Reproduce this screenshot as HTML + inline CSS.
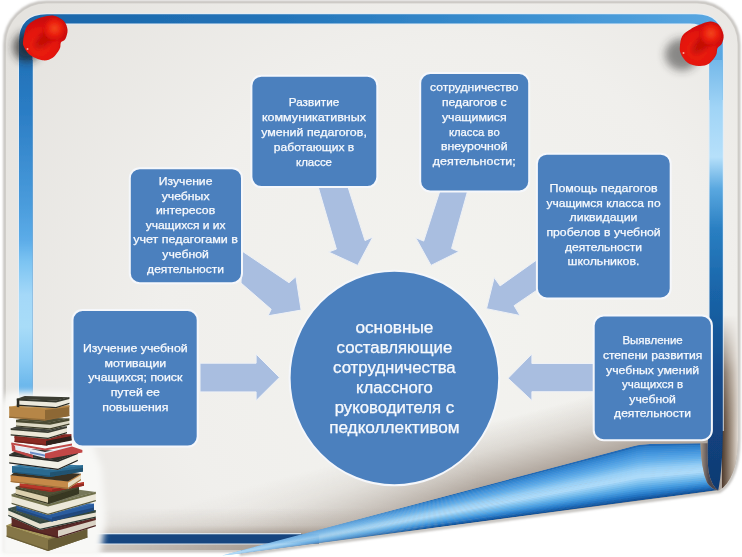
<!DOCTYPE html>
<html><head><meta charset="utf-8">
<style>
html,body{margin:0;padding:0;background:#fff;}
body{width:742px;height:557px;overflow:hidden;font-family:"Liberation Sans",sans-serif;}
svg{display:block}
text{font-family:"Liberation Sans",sans-serif;fill:#f4f8fd;text-anchor:middle}
</style></head><body>
<svg width="742" height="557" viewBox="0 0 742 557">
<defs>
  <radialGradient id="pageG" gradientUnits="userSpaceOnUse" cx="450" cy="330" r="520">
    <stop offset="0" stop-color="#f3f3ef"/>
    <stop offset="0.55" stop-color="#f0efec"/>
    <stop offset="1" stop-color="#e5e3df"/>
  </radialGradient>
  <linearGradient id="topBand" gradientUnits="userSpaceOnUse" x1="19" y1="0" x2="723" y2="0">
    <stop offset="0" stop-color="#1b65a8"/>
    <stop offset="0.35" stop-color="#2273b8"/>
    <stop offset="0.7" stop-color="#3a8fd0"/>
    <stop offset="1" stop-color="#5aa8e2"/>
  </linearGradient>
  <linearGradient id="leftBand" gradientUnits="userSpaceOnUse" x1="0" y1="40" x2="0" y2="540">
    <stop offset="0" stop-color="#1b65a8"/>
    <stop offset="0.04" stop-color="#2272b8"/>
    <stop offset="0.136" stop-color="#2a7cc4"/>
    <stop offset="0.234" stop-color="#3a8cd0"/>
    <stop offset="0.33" stop-color="#4a9cdc"/>
    <stop offset="0.4" stop-color="#5cace8"/>
    <stop offset="0.444" stop-color="#7cc4f2"/>
    <stop offset="0.51" stop-color="#a4d8f8"/>
    <stop offset="0.574" stop-color="#a8dcf8"/>
    <stop offset="0.638" stop-color="#8cccf4"/>
    <stop offset="0.69" stop-color="#6cb8ec"/>
    <stop offset="0.8" stop-color="#4a9cdc"/>
    <stop offset="1" stop-color="#2a78c0"/>
  </linearGradient>
  <linearGradient id="rightBand" gradientUnits="userSpaceOnUse" x1="0" y1="40" x2="0" y2="490">
    <stop offset="0" stop-color="#62ade4"/>
    <stop offset="0.15" stop-color="#a0d4f6"/>
    <stop offset="0.26" stop-color="#b6e0fa"/>
    <stop offset="0.33" stop-color="#5aa8e0"/>
    <stop offset="0.42" stop-color="#2a7fc2"/>
    <stop offset="0.55" stop-color="#1a66aa"/>
    <stop offset="0.75" stop-color="#144a8a"/>
    <stop offset="1" stop-color="#103a72"/>
  </linearGradient>
  <linearGradient id="curlG" gradientUnits="userSpaceOnUse" x1="596" y1="466" x2="606" y2="514">
    <stop offset="0" stop-color="#2f86cc"/>
    <stop offset="0.18" stop-color="#58a8e4"/>
    <stop offset="0.38" stop-color="#9ad2f6"/>
    <stop offset="0.55" stop-color="#4a9fe0"/>
    <stop offset="0.8" stop-color="#1f70c0"/>
    <stop offset="1" stop-color="#0e4f98"/>
  </linearGradient>
  <linearGradient id="brownR" gradientUnits="userSpaceOnUse" x1="722" y1="0" x2="738.5" y2="0">
    <stop offset="0" stop-color="#4e3a2e"/>
    <stop offset="0.3" stop-color="#7a6858"/>
    <stop offset="0.65" stop-color="#b0a294"/>
    <stop offset="1" stop-color="#e6e0da"/>
  </linearGradient>
  <linearGradient id="brownGap" gradientUnits="userSpaceOnUse" x1="701" y1="0" x2="709" y2="0"><stop offset="0" stop-color="#a09080"/><stop offset="1" stop-color="#4a4650"/></linearGradient>
  <linearGradient id="brownFade" gradientUnits="userSpaceOnUse" x1="0" y1="315" x2="0" y2="430">
    <stop offset="0" stop-color="#fff" stop-opacity="0"/>
    <stop offset="0.5" stop-color="#fff" stop-opacity="0.7"/>
    <stop offset="1" stop-color="#fff" stop-opacity="1"/>
  </linearGradient>
  <mask id="mBrown"><rect x="700" y="280" width="42" height="230" fill="url(#brownFade)"/></mask>
  <radialGradient id="pinBase" cx="0.45" cy="0.4" r="0.65">
    <stop offset="0" stop-color="#f02a14"/>
    <stop offset="0.6" stop-color="#e4140c"/>
    <stop offset="1" stop-color="#c00a08"/>
  </radialGradient>
  <radialGradient id="pinHead" cx="0.5" cy="0.45" r="0.6">
    <stop offset="0" stop-color="#f4481c"/>
    <stop offset="0.55" stop-color="#ea1c0e"/>
    <stop offset="1" stop-color="#c80c08"/>
  </radialGradient>
  <linearGradient id="shadowCurl" gradientUnits="userSpaceOnUse" x1="484.6" y1="423.7" x2="500" y2="481.7">
    <stop offset="0" stop-color="#a89c90" stop-opacity="0"/>
    <stop offset="0.45" stop-color="#a89c90" stop-opacity="0.28"/>
    <stop offset="1" stop-color="#a0948a" stop-opacity="0.8"/>
  </linearGradient>
  <linearGradient id="shadowBot" gradientUnits="userSpaceOnUse" x1="0" y1="508" x2="0" y2="534.5">
    <stop offset="0" stop-color="#a89c90" stop-opacity="0"/>
    <stop offset="0.65" stop-color="#a89c90" stop-opacity="0.3"/>
    <stop offset="1" stop-color="#9c9086" stop-opacity="0.9"/>
  </linearGradient>
  <linearGradient id="shadowBotX" gradientUnits="userSpaceOnUse" x1="90" y1="0" x2="300" y2="0">
    <stop offset="0" stop-color="#fff" stop-opacity="0.35"/>
    <stop offset="1" stop-color="#fff" stop-opacity="1"/>
  </linearGradient>
  <linearGradient id="shadowCurlX" gradientUnits="userSpaceOnUse" x1="230" y1="0" x2="480" y2="0">
    <stop offset="0" stop-color="#fff" stop-opacity="0.35"/>
    <stop offset="1" stop-color="#fff" stop-opacity="1"/>
  </linearGradient>
  <mask id="mCurlS"><rect x="0" y="280" width="742" height="280" fill="url(#shadowCurlX)"/></mask>
  <mask id="mBot"><rect x="0" y="480" width="500" height="80" fill="url(#shadowBotX)"/></mask>
  <filter id="b05"><feGaussianBlur stdDeviation="0.5"/></filter>
  <filter id="b1"><feGaussianBlur stdDeviation="1"/></filter>
  <filter id="b2"><feGaussianBlur stdDeviation="2"/></filter>
  <filter id="b4" x="-100%" y="-100%" width="300%" height="300%"><feGaussianBlur stdDeviation="4.5"/></filter>
  <filter id="b4h" x="-20%" y="-20%" width="140%" height="140%"><feGaussianBlur stdDeviation="3"/></filter>
  <filter id="b2p" x="-50%" y="-50%" width="200%" height="200%"><feGaussianBlur stdDeviation="2"/></filter>
  <filter id="b1p" x="-30%" y="-30%" width="160%" height="160%"><feGaussianBlur stdDeviation="1.2"/></filter>
  <radialGradient id="pinBlobL" gradientUnits="userSpaceOnUse" cx="40" cy="46" r="26">
    <stop offset="0" stop-color="#ee2412"/><stop offset="0.6" stop-color="#e4140c"/><stop offset="1" stop-color="#cc0c08"/>
  </radialGradient>
  <radialGradient id="pinBlobR" gradientUnits="userSpaceOnUse" cx="697" cy="50" r="26">
    <stop offset="0" stop-color="#ee2412"/><stop offset="0.6" stop-color="#e4140c"/><stop offset="1" stop-color="#cc0c08"/>
  </radialGradient>
  <filter id="b07"><feGaussianBlur stdDeviation="0.8"/></filter>
  <linearGradient id="curlTip" gradientUnits="userSpaceOnUse" x1="230" y1="0" x2="440" y2="0">
    <stop offset="0" stop-color="#b4dcf8" stop-opacity="0.9"/>
    <stop offset="0.4" stop-color="#9cd0f4" stop-opacity="0.5"/>
    <stop offset="1" stop-color="#8cc8f0" stop-opacity="0"/>
  </linearGradient>
  <filter id="gb" filterUnits="userSpaceOnUse" x="0" y="0" width="742" height="557"><feGaussianBlur stdDeviation="0.45"/></filter>
  <filter id="b6"><feGaussianBlur stdDeviation="6"/></filter>
  <filter id="tb"><feGaussianBlur stdDeviation="0.3"/></filter>
  <clipPath id="curlClip"><path d="M222,555.5 L632,446.6 Q640,444.2 650,444 L700.5,443.2 Q701,468 707,482.5 Q711,489 717.5,490.3 L241.5,553.4 Z"/></clipPath>
  <clipPath id="pageClip"><path d="M5.5,550 L5.5,44 A41,41 0 0 1 46.5,3 L697,3 A41,41 0 0 1 738,44 L738,440 Q737.5,478 719.4,490.5 L241,553.5 L241,550 Z"/></clipPath>
</defs>
<g filter="url(#gb)">

<!-- outer soft shadow of page -->
<path d="M4.5,551 L4.5,44 A42,42 0 0 1 46.5,2 L697,2 A42,42 0 0 1 739,44 L739,440 Q738.5,480 720,491.5 L241,554.5 L241,551 Z" fill="#e4e2de" stroke="#bdbab6" stroke-width="2.4" filter="url(#b07)"/>
<!-- page -->
<path d="M6,550 L6,44 A40.5,40.5 0 0 1 46.5,3.5 L697,3.5 A40.5,40.5 0 0 1 737.5,44 L737.5,440 Q737,478 719.4,490.5 L241,553.5 L241,550 Z" fill="url(#pageG)"/>

<g clip-path="url(#pageClip)">
  <!-- shadows over page near curl / bottom -->
  <g mask="url(#mCurlS)"><rect x="0" y="300" width="742" height="257" fill="url(#shadowCurl)"/></g>
  <g mask="url(#mBot)"><rect x="33" y="500" width="400" height="55" fill="url(#shadowBot)"/></g>
  <!-- brown right strip -->
  <g mask="url(#mBrown)"><rect x="722" y="280" width="18" height="230" fill="url(#brownR)"/></g>
</g>

<!-- blue frame -->
<path d="M19,534 L19,42 Q19,14.3 47,14.3 L696,14.3 Q722.8,14.3 722.8,42 L722.8,430 L709.5,430 L709.5,44 Q709.5,23.6 690,23.6 L52,23.6 Q32.5,23.6 32.5,44 L32.5,534 L300,534 L300,543.6 L19,543.6 Z" fill="none" stroke="#e2eef9" stroke-width="2" opacity="0.85" filter="url(#tb)"/>
<path d="M19,543 L19,42 Q19,14.3 47,14.3 L696,14.3 Q722.8,14.3 722.8,42 L722.8,100 L709.5,100 L709.5,44 Q709.5,23.6 690,23.6 L52,23.6 Q32.5,23.6 32.5,44 L32.5,543 Z" fill="url(#topBand)"/>
<rect x="19" y="60" width="13.5" height="483" fill="url(#leftBand)"/>
<path d="M709.5,60 L722.8,60 L722.8,430 Q722.5,470 718.2,490.4 Q711.5,486 708.5,472 Q707,455 707.6,445 Q708,436 709.5,425 Z" fill="url(#rightBand)"/>
<rect x="19" y="534.3" width="300" height="9.2" fill="#15457f"/>

<!-- curl -->
<g clip-path="url(#curlClip)"><g filter="url(#b05)">
<polygon points="222.0,555.50 300.0,534.78 400.0,508.22 500.0,481.66 580.0,460.42 620.0,449.79 638.5,444.65 650.0,443.93 670.0,443.62 700.0,443.18 725.0,442.80 725.0,444.92 700.0,445.43 670.0,446.04 650.0,446.45 638.5,447.21 620.0,452.23 580.0,462.61 500.0,483.37 400.0,509.32 300.0,535.27 222.0,555.51" fill="#226ab6"/>
<polygon points="222.0,555.51 300.0,535.16 400.0,509.08 500.0,482.99 580.0,462.13 620.0,451.69 638.5,446.65 650.0,445.89 670.0,445.51 700.0,444.93 725.0,444.45 725.0,446.57 700.0,447.19 670.0,447.92 650.0,448.42 638.5,449.21 620.0,454.13 580.0,464.32 500.0,484.70 400.0,510.18 300.0,535.65 222.0,555.52" fill="#2d7fca"/>
<polygon points="222.0,555.52 300.0,535.55 400.0,509.94 500.0,484.33 580.0,463.84 620.0,453.60 638.5,448.65 650.0,447.86 670.0,447.40 700.0,446.69 725.0,446.11 725.0,448.23 700.0,448.95 670.0,449.81 650.0,450.39 638.5,451.20 620.0,456.03 580.0,466.03 500.0,486.03 400.0,511.03 300.0,536.03 222.0,555.53" fill="#3386d1"/>
<polygon points="222.0,555.53 300.0,535.93 400.0,510.79 500.0,485.66 580.0,465.55 620.0,455.50 638.5,450.65 650.0,449.83 670.0,449.28 700.0,448.45 725.0,447.76 725.0,449.88 700.0,450.71 670.0,451.70 650.0,452.35 638.5,453.20 620.0,457.93 580.0,467.74 500.0,487.36 400.0,511.89 300.0,536.41 222.0,555.54" fill="#3a8dd7"/>
<polygon points="222.0,555.54 300.0,536.31 400.0,511.65 500.0,486.99 580.0,467.26 620.0,457.40 638.5,452.64 650.0,451.80 670.0,451.17 700.0,450.21 725.0,449.42 725.0,451.54 700.0,452.47 670.0,453.58 650.0,454.32 638.5,455.20 620.0,459.83 580.0,469.45 500.0,488.69 400.0,512.74 300.0,536.79 222.0,555.55" fill="#4294dd"/>
<polygon points="222.0,555.55 300.0,536.69 400.0,512.50 500.0,488.32 580.0,468.97 620.0,459.30 638.5,454.64 650.0,453.77 670.0,453.05 700.0,451.97 725.0,451.07 725.0,453.19 700.0,454.23 670.0,455.47 650.0,456.29 638.5,457.20 620.0,461.74 580.0,471.17 500.0,490.03 400.0,513.60 300.0,537.18 222.0,555.56" fill="#4a9be0"/>
<polygon points="222.0,555.56 300.0,537.07 400.0,513.36 500.0,489.65 580.0,470.69 620.0,461.20 638.5,456.64 650.0,455.74 670.0,454.94 700.0,453.73 725.0,452.73 725.0,454.85 700.0,455.99 670.0,457.35 650.0,458.26 638.5,459.20 620.0,463.64 580.0,472.88 500.0,491.36 400.0,514.46 300.0,537.56 222.0,555.57" fill="#52a1e4"/>
<polygon points="222.0,555.57 300.0,537.45 400.0,514.22 500.0,490.98 580.0,472.40 620.0,463.11 638.5,458.64 650.0,457.71 670.0,456.82 700.0,455.49 725.0,454.38 725.0,456.50 700.0,457.75 670.0,459.24 650.0,460.23 638.5,461.20 620.0,465.54 580.0,474.59 500.0,492.69 400.0,515.31 300.0,537.94 222.0,555.58" fill="#5aa8e7"/>
<polygon points="222.0,555.58 300.0,537.83 400.0,515.07 500.0,492.32 580.0,474.11 620.0,465.01 638.5,460.64 650.0,459.68 670.0,458.71 700.0,457.25 725.0,456.04 725.0,458.16 700.0,459.51 670.0,461.12 650.0,462.20 638.5,463.19 620.0,467.44 580.0,476.30 500.0,494.02 400.0,516.17 300.0,538.32 222.0,555.59" fill="#63afea"/>
<polygon points="222.0,555.59 300.0,538.21 400.0,515.93 500.0,493.65 580.0,475.82 620.0,466.91 638.5,462.63 650.0,461.65 670.0,460.60 700.0,459.01 725.0,457.69 725.0,459.81 700.0,461.27 670.0,463.01 650.0,464.17 638.5,465.19 620.0,469.34 580.0,478.01 500.0,495.35 400.0,517.03 300.0,538.70 222.0,555.60" fill="#70b7ed"/>
<polygon points="222.0,555.60 300.0,538.59 400.0,516.79 500.0,494.98 580.0,477.53 620.0,468.81 638.5,464.63 650.0,463.62 670.0,462.48 700.0,460.77 725.0,459.35 725.0,461.47 700.0,463.03 670.0,464.90 650.0,466.14 638.5,467.19 620.0,471.25 580.0,479.73 500.0,496.68 400.0,517.88 300.0,539.08 222.0,555.61" fill="#7dbff0"/>
<polygon points="222.0,555.61 300.0,538.97 400.0,517.64 500.0,496.31 580.0,479.25 620.0,470.71 638.5,466.63 650.0,465.59 670.0,464.37 700.0,462.53 725.0,461.00 725.0,463.12 700.0,464.79 670.0,466.78 650.0,468.11 638.5,469.19 620.0,473.15 580.0,481.44 500.0,498.02 400.0,518.74 300.0,539.46 222.0,555.62" fill="#8ac7f3"/>
<polygon points="222.0,555.62 300.0,539.35 400.0,518.50 500.0,497.64 580.0,480.96 620.0,472.62 638.5,468.63 650.0,467.56 670.0,466.25 700.0,464.29 725.0,462.66 725.0,464.78 700.0,466.54 670.0,468.67 650.0,470.08 638.5,471.19 620.0,475.05 580.0,483.15 500.0,499.35 400.0,519.59 300.0,539.84 222.0,555.63" fill="#97cff6"/>
<polygon points="222.0,555.63 300.0,539.74 400.0,519.35 500.0,498.97 580.0,482.67 620.0,474.52 638.5,470.63 650.0,469.53 670.0,468.14 700.0,466.05 725.0,464.31 725.0,466.43 700.0,468.30 670.0,470.55 650.0,472.05 638.5,473.18 620.0,476.95 580.0,484.86 500.0,500.68 400.0,520.45 300.0,540.22 222.0,555.64" fill="#9ed3f7"/>
<polygon points="222.0,555.64 300.0,540.12 400.0,520.21 500.0,500.31 580.0,484.38 620.0,476.42 638.5,472.62 650.0,471.50 670.0,470.02 700.0,467.81 725.0,465.97 725.0,468.09 700.0,470.06 670.0,472.44 650.0,474.02 638.5,475.18 620.0,478.85 580.0,486.57 500.0,502.01 400.0,521.31 300.0,540.60 222.0,555.65" fill="#a5d6f8"/>
<polygon points="222.0,555.65 300.0,540.50 400.0,521.07 500.0,501.64 580.0,486.09 620.0,478.32 638.5,474.62 650.0,473.47 670.0,471.91 700.0,469.57 725.0,467.62 725.0,469.74 700.0,471.82 670.0,474.32 650.0,475.99 638.5,477.18 620.0,480.76 580.0,488.29 500.0,503.34 400.0,522.16 300.0,540.98 222.0,555.66" fill="#abdaf9"/>
<polygon points="222.0,555.66 300.0,540.88 400.0,521.92 500.0,502.97 580.0,487.81 620.0,480.22 638.5,476.62 650.0,475.44 670.0,473.80 700.0,471.33 725.0,469.28 725.0,471.40 700.0,473.58 670.0,476.21 650.0,477.96 638.5,479.18 620.0,482.66 580.0,490.00 500.0,504.67 400.0,523.02 300.0,541.37 222.0,555.68" fill="#acdaf9"/>
<polygon points="222.0,555.67 300.0,541.26 400.0,522.78 500.0,504.30 580.0,489.52 620.0,482.13 638.5,478.62 650.0,477.41 670.0,475.68 700.0,473.09 725.0,470.93 725.0,473.05 700.0,475.34 670.0,478.10 650.0,479.93 638.5,481.18 620.0,484.56 580.0,491.71 500.0,506.01 400.0,523.88 300.0,541.75 222.0,555.69" fill="#9bd1f6"/>
<polygon points="222.0,555.68 300.0,541.64 400.0,523.64 500.0,505.63 580.0,491.23 620.0,484.03 638.5,480.62 650.0,479.38 670.0,477.57 700.0,474.85 725.0,472.59 725.0,474.71 700.0,477.10 670.0,479.98 650.0,481.90 638.5,483.17 620.0,486.46 580.0,493.42 500.0,507.34 400.0,524.73 300.0,542.13 222.0,555.70" fill="#8ac8f2"/>
<polygon points="222.0,555.69 300.0,542.02 400.0,524.49 500.0,506.96 580.0,492.94 620.0,485.93 638.5,482.61 650.0,481.35 670.0,479.45 700.0,476.61 725.0,474.24 725.0,476.36 700.0,478.86 670.0,481.87 650.0,483.87 638.5,485.17 620.0,488.36 580.0,495.13 500.0,508.67 400.0,525.59 300.0,542.51 222.0,555.71" fill="#7abfee"/>
<polygon points="222.0,555.70 300.0,542.40 400.0,525.35 500.0,508.30 580.0,494.65 620.0,487.83 638.5,484.61 650.0,483.32 670.0,481.34 700.0,478.37 725.0,475.90 725.0,478.02 700.0,480.62 670.0,483.75 650.0,485.84 638.5,487.17 620.0,490.27 580.0,496.84 500.0,510.00 400.0,526.44 300.0,542.89 222.0,555.72" fill="#69b4ea"/>
<polygon points="222.0,555.71 300.0,542.78 400.0,526.20 500.0,509.63 580.0,496.37 620.0,489.73 638.5,486.61 650.0,485.29 670.0,483.22 700.0,480.13 725.0,477.55 725.0,479.67 700.0,482.38 670.0,485.64 650.0,487.81 638.5,489.17 620.0,492.17 580.0,498.56 500.0,511.33 400.0,527.30 300.0,543.27 222.0,555.73" fill="#59a9e6"/>
<polygon points="222.0,555.72 300.0,543.16 400.0,527.06 500.0,510.96 580.0,498.08 620.0,491.64 638.5,488.61 650.0,487.26 670.0,485.11 700.0,481.89 725.0,479.21 725.0,481.33 700.0,484.14 670.0,487.52 650.0,489.78 638.5,491.17 620.0,494.07 580.0,500.27 500.0,512.66 400.0,528.16 300.0,543.65 222.0,555.74" fill="#499ee1"/>
<polygon points="222.0,555.73 300.0,543.54 400.0,527.92 500.0,512.29 580.0,499.79 620.0,493.54 638.5,490.61 650.0,489.23 670.0,487.00 700.0,483.65 725.0,480.86 725.0,482.98 700.0,485.90 670.0,489.41 650.0,491.75 638.5,493.16 620.0,495.97 580.0,501.98 500.0,514.00 400.0,529.01 300.0,544.03 222.0,555.75" fill="#3b90d8"/>
<polygon points="222.0,555.74 300.0,543.93 400.0,528.77 500.0,513.62 580.0,501.50 620.0,495.44 638.5,492.61 650.0,491.20 670.0,488.88 700.0,485.41 725.0,482.52 725.0,484.64 700.0,487.66 670.0,491.29 650.0,493.72 638.5,495.16 620.0,497.88 580.0,503.69 500.0,515.33 400.0,529.87 300.0,544.41 222.0,555.76" fill="#2e82ce"/>
<polygon points="222.0,555.75 300.0,544.31 400.0,529.63 500.0,514.95 580.0,503.21 620.0,497.34 638.5,494.60 650.0,493.16 670.0,490.77 700.0,487.17 725.0,484.17 725.0,486.29 700.0,489.42 670.0,493.18 650.0,495.69 638.5,497.16 620.0,499.78 580.0,505.40 500.0,516.66 400.0,530.73 300.0,544.79 222.0,555.77" fill="#2273c2"/>
<polygon points="222.0,555.76 300.0,544.69 400.0,530.49 500.0,516.29 580.0,504.92 620.0,499.24 638.5,496.60 650.0,495.13 670.0,492.65 700.0,488.93 725.0,485.83 725.0,487.94 700.0,491.18 670.0,495.07 650.0,497.66 638.5,499.16 620.0,501.68 580.0,507.12 500.0,517.99 400.0,531.58 300.0,545.17 222.0,555.78" fill="#1a63ae"/>
<polygon points="222.0,555.77 300.0,545.07 400.0,531.34 500.0,517.62 580.0,506.64 620.0,501.15 638.5,498.60 650.0,497.10 670.0,494.54 700.0,490.69 725.0,487.48 725.0,489.14 700.0,492.45 670.0,496.42 650.0,499.07 638.5,500.60 620.0,503.05 580.0,508.35 500.0,518.95 400.0,532.20 300.0,545.45 222.0,555.78" fill="#12529a"/>
</g>
<rect x="200" y="430" width="260" height="130" fill="url(#curlTip)"/>
</g>
<!-- brown shadow between curl end and inner band -->
<path d="M700.5,443.2 Q701,468 707,482.5 Q711,489 718.2,490.4 Q711.5,486 708.5,472 Q707,455 707.6,443.2 Z" fill="url(#brownGap)"/>
<!-- arrows -->
<g fill="#a9bee0" stroke="#eef1f6" stroke-width="1" stroke-linejoin="round">
  <path d="M200,363.2 L256.1,363.2 L256.1,354.1 L279.4,377.4 L256.1,400.6 L256.1,391.9 L200,391.9 Z"/>
  <path d="M242,251 L289,282.7 L295.9,276.7 L301.1,310.1 L268,315.8 L271.2,309.3 L241,283 Z"/>
  <path d="M318.2,187 L348,187 L365,240.6 L372.8,237 L357.7,265.4 L328.6,252 L336.4,249.1 Z"/>
  <path d="M440.2,190 L467.9,190 L451.6,248.4 L458.9,251.6 L431,265.4 L415.7,237.7 L423.7,241.1 Z"/>
  <path d="M538,259 L500.1,285.9 L494.2,277.6 L486.5,308.7 L520,315.5 L514.1,305.7 L538,289.4 Z"/>
  <path d="M595,363.5 L531.9,363.5 L531.9,354 L508.1,378.3 L531.9,400.6 L531.9,391.7 L595,391.7 Z"/>
</g>

<!-- books placeholder -->
<path d="M3,402 Q3,392 14,392 L72,392 L102,468 L106,520 L100,557 L0,557 L0,402 Z" fill="#f8f8f6" filter="url(#b4h)"/>
<g filter="url(#b05)"><polygon points="6.6,525.3 48.0,538.5 48.0,551.0 6.6,536.8" fill="#857646"/>
<polygon points="48.0,538.5 87.5,526.6 87.5,537.6 48.0,551.0" fill="#675c36"/>
<polygon points="6.6,525.0 48.0,538.2 87.5,526.4 87.5,528.2 48.0,540.1 6.6,526.9" fill="#857646"/>
<polygon points="6.6,535.6 48.0,549.8 87.5,536.4 87.5,537.6 48.0,551.0 6.6,536.8" fill="#6a5e38"/>
<polygon points="6.6,525.3 48.0,538.5 87.5,526.6 30.3,515.8" fill="#a59658"/>
<polygon points="11.6,517.4 58.0,528.5 58.0,538.0 11.6,526.1" fill="#5c2a28"/>
<polygon points="58.0,528.5 95.8,517.9 95.8,526.3 58.0,538.0" fill="#d9d2c4"/>
<polygon points="11.6,517.1 58.0,528.2 95.8,517.6 95.8,519.9 58.0,530.5 11.6,519.4" fill="#5c2a28"/>
<polygon points="11.6,524.9 58.0,536.8 95.8,525.1 95.8,526.3 58.0,538.0 11.6,526.1" fill="#492120"/>
<polygon points="11.6,517.4 58.0,528.5 95.8,517.9 34.3,508.9" fill="#4a2220"/>
<polygon points="8.3,508.2 40.0,521.5 40.0,530.0 8.3,516.0" fill="#e6e1d1"/>
<polygon points="40.0,521.5 95.8,510.3 95.8,517.8 40.0,530.0" fill="#e6e1d1"/>
<polygon points="8.3,507.9 40.0,521.2 95.8,510.0 95.8,512.5 40.0,523.7 8.3,510.4" fill="#34463e"/>
<polygon points="8.3,514.8 40.0,528.8 95.8,516.6 95.8,517.8 40.0,530.0 8.3,516.0" fill="#293831"/>
<polygon points="8.3,508.2 40.0,521.5 95.8,510.3 41.8,499.3" fill="#3d5046"/>
<polygon points="16.5,503.4 52.0,514.0 52.0,521.5 16.5,510.2" fill="#2a5c9e"/>
<polygon points="52.0,514.0 94.0,503.9 94.0,510.5 52.0,521.5" fill="#20477b"/>
<polygon points="16.5,503.1 52.0,513.7 94.0,503.6 94.0,507.4 52.0,517.5 16.5,506.9" fill="#2a5c9e"/>
<polygon points="16.5,508.2 52.0,519.5 94.0,508.5 94.0,510.5 52.0,521.5 16.5,510.2" fill="#21497e"/>
<polygon points="16.5,503.4 52.0,514.0 94.0,503.9 41.7,495.3" fill="#3468ac"/>
<polygon points="11.6,494.3 48.0,504.5 48.0,515.0 11.6,504.0" fill="#ece8d9"/>
<polygon points="48.0,504.5 95.8,492.1 95.8,501.3 48.0,515.0" fill="#ece8d9"/>
<polygon points="11.6,494.0 48.0,504.2 95.8,491.8 95.8,494.1 48.0,506.5 11.6,496.3" fill="#6f6f4c"/>
<polygon points="11.6,502.8 48.0,513.8 95.8,500.1 95.8,501.3 48.0,515.0 11.6,504.0" fill="#58583c"/>
<polygon points="11.6,494.3 48.0,504.5 95.8,492.1 40.3,484.4" fill="#77775a"/>
<polygon points="15.7,487.1 48.0,495.5 48.0,504.0 15.7,494.9" fill="#dbd0ae"/>
<polygon points="48.0,495.5 79.0,486.2 79.0,493.7 48.0,504.0" fill="#373723"/>
<polygon points="15.7,486.8 48.0,495.2 79.0,485.9 79.0,488.0 48.0,497.3 15.7,488.9" fill="#47472e"/>
<polygon points="15.7,493.7 48.0,502.8 79.0,492.5 79.0,493.7 48.0,504.0 15.7,494.9" fill="#383824"/>
<polygon points="15.7,487.1 48.0,495.5 79.0,486.2 34.3,479.7" fill="#505036"/>
<polygon points="19.8,483.5 52.0,488.0 52.0,492.0 19.8,487.2" fill="#b8382a"/>
<polygon points="52.0,488.0 84.0,482.2 84.0,485.8 52.0,492.0" fill="#8f2b20"/>
<polygon points="19.8,483.2 52.0,487.7 84.0,481.9 84.0,483.7 52.0,489.5 19.8,485.0" fill="#b8382a"/>
<polygon points="19.8,486.0 52.0,490.8 84.0,484.6 84.0,485.8 52.0,492.0 19.8,487.2" fill="#932c21"/>
<polygon points="10.7,475.2 68.0,481.5 68.0,489.0 10.7,482.1" fill="#c58a48"/>
<polygon points="68.0,481.5 81.0,473.7 81.0,480.3 68.0,489.0" fill="#e6dcc2"/>
<polygon points="10.7,474.9 68.0,481.2 81.0,473.4 81.0,474.9 68.0,482.7 10.7,476.4" fill="#c58a48"/>
<polygon points="10.7,480.9 68.0,487.8 81.0,479.1 81.0,480.3 68.0,489.0 10.7,482.1" fill="#9d6e39"/>
<polygon points="10.7,475.2 68.0,481.5 81.0,473.7 18.5,469.0" fill="#3a3020"/>
<polygon points="12.0,466.2 50.0,470.0 50.0,477.0 12.0,472.6" fill="#2a6a90"/>
<polygon points="50.0,470.0 83.0,465.4 83.0,471.5 50.0,477.0" fill="#205270"/>
<polygon points="12.0,465.9 50.0,469.7 83.0,465.1 83.0,467.9 50.0,472.5 12.0,468.7" fill="#2a6a90"/>
<polygon points="12.0,471.4 50.0,475.8 83.0,470.3 83.0,471.5 50.0,477.0 12.0,472.6" fill="#215473"/>
<polygon points="12.0,466.2 50.0,470.0 83.0,465.4 31.8,462.5" fill="#347aa2"/>
<polygon points="9.2,454.6 58.0,460.5 58.0,470.0 9.2,463.4" fill="#f2f0e6"/>
<polygon points="58.0,460.5 77.8,452.6 77.8,460.9 58.0,470.0" fill="#f2f0e6"/>
<polygon points="9.2,454.3 58.0,460.2 77.8,452.3 77.8,454.1 58.0,462.0 9.2,456.1" fill="#2b2b28"/>
<polygon points="9.2,462.2 58.0,468.8 77.8,459.7 77.8,460.9 58.0,470.0 9.2,463.4" fill="#222220"/>
<polygon points="9.2,454.6 58.0,460.5 77.8,452.6 21.1,448.3" fill="#30302c"/>
<polygon points="15.0,445.5 45.0,452.0 72.0,445.5 72.0,450.0 45.0,458.0 15.5,450.5" fill="#e3eaf3"/>
<polygon points="11.4,443.0 15.0,446.0 15.5,450.0 33.0,455.0 33.0,458.0 12.0,451.0" fill="#c04a48"/>
<polygon points="45.0,453.5 72.0,446.5 82.4,450.0 82.4,452.5 50.0,458.5 45.0,458.0" fill="#c24646"/>
<polygon points="11.4,442.5 45.0,448.5 72.0,443.5 72.0,445.5 45.0,450.5 11.4,444.5" fill="#c04a48"/>
<polygon points="30.0,451.5 45.0,454.5 45.0,456.5 30.0,453.5" fill="#6b8cc6"/>
<polygon points="14.5,436.4 46.0,439.5 46.0,445.5 14.5,441.9" fill="#8a2a22"/>
<polygon points="46.0,439.5 71.7,434.4 71.7,439.6 46.0,445.5" fill="#6b201a"/>
<polygon points="14.5,436.1 46.0,439.2 71.7,434.1 71.7,435.9 46.0,441.0 14.5,437.9" fill="#8a2a22"/>
<polygon points="14.5,440.7 46.0,444.3 71.7,438.4 71.7,439.6 46.0,445.5 14.5,441.9" fill="#6e211b"/>
<polygon points="14.5,436.4 46.0,439.5 71.7,434.4 29.9,432.2" fill="#7a241e"/>
<polygon points="46.0,441.0 71.7,436.0 71.7,440.5 46.0,445.5" fill="#2e201e"/>
<polygon points="10.7,428.5 48.0,431.5 48.0,439.0 10.7,435.4" fill="#ece8d8"/>
<polygon points="48.0,431.5 67.0,426.6 67.0,433.2 48.0,439.0" fill="#ece8d8"/>
<polygon points="10.7,428.2 48.0,431.2 67.0,426.3 67.0,428.1 48.0,433.0 10.7,430.0" fill="#3a3c30"/>
<polygon points="10.7,434.2 48.0,437.8 67.0,432.0 67.0,433.2 48.0,439.0 10.7,435.4" fill="#2e3026"/>
<polygon points="10.7,428.5 48.0,431.5 67.0,426.6 22.1,424.6" fill="#40423a"/>
<polygon points="16.0,420.1 50.0,422.5 50.0,429.5 16.0,426.6" fill="#dcd8c4"/>
<polygon points="50.0,422.5 69.4,418.6 69.4,424.8 50.0,429.5" fill="#dcd8c4"/>
<polygon points="16.0,419.8 50.0,422.2 69.4,418.3 69.4,420.8 50.0,424.7 16.0,422.3" fill="#4a4a30"/>
<polygon points="16.0,425.4 50.0,428.3 69.4,423.6 69.4,424.8 50.0,429.5 16.0,426.6" fill="#3b3b26"/>
<polygon points="16.0,420.1 50.0,422.5 69.4,418.6 27.6,417.0" fill="#4e4e36"/>
<polygon points="9.2,406.7 45.0,408.5 45.0,420.5 9.2,417.8" fill="#b68646"/>
<polygon points="45.0,408.5 69.4,405.6 69.4,416.1 45.0,420.5" fill="#8d6836"/>
<polygon points="9.2,406.4 45.0,408.2 69.4,405.3 69.4,407.1 45.0,410.0 9.2,408.2" fill="#b68646"/>
<polygon points="9.2,416.6 45.0,419.3 69.4,414.9 69.4,416.1 45.0,420.5 9.2,417.8" fill="#916b38"/>
<polygon points="9.2,406.7 45.0,408.5 69.4,405.6 23.8,404.4" fill="#c09250"/>
<polygon points="16.8,398.8 56.0,400.8 56.0,408.3 16.8,405.7" fill="#ebe9dd"/>
<polygon points="56.0,400.8 69.4,397.3 69.4,403.9 56.0,408.3" fill="#ebe9dd"/>
<polygon points="16.8,398.5 56.0,400.5 69.4,397.0 69.4,398.9 56.0,402.4 16.8,400.4" fill="#36382e"/>
<polygon points="16.8,404.5 56.0,407.1 69.4,402.7 69.4,403.9 56.0,408.3 16.8,405.7" fill="#2b2c24"/>
<polygon points="16.8,398.8 56.0,400.8 69.4,397.3 24.8,396.1" fill="#3a3c32"/>
<polygon points="16.8,398.8 19.3,399.0 19.3,407.3 16.8,407.0" fill="#2a2a22"/></g>

<!-- boxes -->
<g fill="#4c80be" stroke="#f5f7fb" stroke-width="2">
  <rect x="72.5" y="310" width="125.2" height="136.6" rx="10"/>
  <rect x="129.8" y="168.2" width="112.2" height="115" rx="10"/>
  <rect x="251.4" y="75.7" width="125.9" height="111.4" rx="10"/>
  <rect x="420.2" y="73" width="109" height="118.4" rx="10"/>
  <rect x="536.9" y="153.7" width="133.8" height="144.8" rx="10"/>
  <rect x="593.7" y="315.6" width="118.2" height="124.6" rx="10"/>
  <ellipse cx="394.4" cy="378" rx="104.8" ry="107.3"/>
</g>

<g filter="url(#tb)" stroke="#fff" stroke-width="0.25">
<text x="135.3" y="352.1" font-size="11.5" textLength="104.8" lengthAdjust="spacingAndGlyphs">Изучение учебной</text>
<text x="135.3" y="366.8" font-size="11.5" textLength="61.8" lengthAdjust="spacingAndGlyphs">мотивации</text>
<text x="135.3" y="381.3" font-size="11.5" textLength="94.3" lengthAdjust="spacingAndGlyphs">учащихся; поиск</text>
<text x="135.3" y="395.9" font-size="11.5" textLength="49.3" lengthAdjust="spacingAndGlyphs">путей ее</text>
<text x="135.3" y="410.5" font-size="11.5" textLength="66.2" lengthAdjust="spacingAndGlyphs">повышения</text>
<text x="185.6" y="185.1" font-size="11.5" textLength="53.6" lengthAdjust="spacingAndGlyphs">Изучение</text>
<text x="185.6" y="199.6" font-size="11.5" textLength="47.9" lengthAdjust="spacingAndGlyphs">учебных</text>
<text x="185.6" y="214.2" font-size="11.5" textLength="59.3" lengthAdjust="spacingAndGlyphs">интересов</text>
<text x="185.6" y="228.8" font-size="11.5" textLength="79.8" lengthAdjust="spacingAndGlyphs">учащихся и их</text>
<text x="185.6" y="243.3" font-size="11.5" textLength="104.8" lengthAdjust="spacingAndGlyphs">учет педагогами в</text>
<text x="185.6" y="257.9" font-size="11.5" textLength="46.6" lengthAdjust="spacingAndGlyphs">учебной</text>
<text x="185.6" y="272.5" font-size="11.5" textLength="77.0" lengthAdjust="spacingAndGlyphs">деятельности</text>
<text x="314" y="105.8" font-size="11.5" textLength="50.4" lengthAdjust="spacingAndGlyphs">Развитие</text>
<text x="314" y="120.7" font-size="11.5" textLength="104.1" lengthAdjust="spacingAndGlyphs">коммуникативных</text>
<text x="314" y="135.6" font-size="11.5" textLength="105.7" lengthAdjust="spacingAndGlyphs">умений педагогов,</text>
<text x="314" y="150.5" font-size="11.5" textLength="80.4" lengthAdjust="spacingAndGlyphs">работающих в</text>
<text x="314" y="165.5" font-size="11.5" textLength="36.0" lengthAdjust="spacingAndGlyphs">классе</text>
<text x="474.3" y="91.2" font-size="11.5" textLength="88.5" lengthAdjust="spacingAndGlyphs">сотрудничество</text>
<text x="474.3" y="105.9" font-size="11.5" textLength="64.6" lengthAdjust="spacingAndGlyphs">педагогов с</text>
<text x="474.3" y="120.6" font-size="11.5" textLength="64.8" lengthAdjust="spacingAndGlyphs">учащимися</text>
<text x="474.3" y="135.5" font-size="11.5" textLength="50.8" lengthAdjust="spacingAndGlyphs">класса во</text>
<text x="474.3" y="150.3" font-size="11.5" textLength="66.7" lengthAdjust="spacingAndGlyphs">внеурочной</text>
<text x="474.3" y="165.2" font-size="11.5" textLength="83.0" lengthAdjust="spacingAndGlyphs">деятельности;</text>
<text x="603.5" y="192.1" font-size="11.5" textLength="108.1" lengthAdjust="spacingAndGlyphs">Помощь педагогов</text>
<text x="603.5" y="206.7" font-size="11.5" textLength="114.2" lengthAdjust="spacingAndGlyphs">учащимся класса по</text>
<text x="603.5" y="221.3" font-size="11.5" textLength="67.9" lengthAdjust="spacingAndGlyphs">ликвидации</text>
<text x="603.5" y="236.1" font-size="11.5" textLength="114.2" lengthAdjust="spacingAndGlyphs">пробелов в учебной</text>
<text x="603.5" y="250.8" font-size="11.5" textLength="77.0" lengthAdjust="spacingAndGlyphs">деятельности</text>
<text x="603.5" y="265.3" font-size="11.5" textLength="71.8" lengthAdjust="spacingAndGlyphs">школьников.</text>
<text x="652.6" y="344.3" font-size="11.5" textLength="60.3" lengthAdjust="spacingAndGlyphs">Выявление</text>
<text x="652.6" y="358.9" font-size="11.5" textLength="99.4" lengthAdjust="spacingAndGlyphs">степени развития</text>
<text x="652.6" y="373.5" font-size="11.5" textLength="93.2" lengthAdjust="spacingAndGlyphs">учебных умений</text>
<text x="652.6" y="388.1" font-size="11.5" textLength="61.3" lengthAdjust="spacingAndGlyphs">учащихся в</text>
<text x="652.6" y="402.6" font-size="11.5" textLength="46.6" lengthAdjust="spacingAndGlyphs">учебной</text>
<text x="652.6" y="417.2" font-size="11.5" textLength="77.0" lengthAdjust="spacingAndGlyphs">деятельности</text>
<text x="394.4" y="332.6" font-size="15.6" textLength="78.0" lengthAdjust="spacingAndGlyphs">основные</text>
<text x="394.4" y="352.7" font-size="15.6" textLength="115.7" lengthAdjust="spacingAndGlyphs">составляющие</text>
<text x="394.4" y="372.9" font-size="15.6" textLength="122.6" lengthAdjust="spacingAndGlyphs">сотрудничества</text>
<text x="394.4" y="393.1" font-size="15.6" textLength="76.7" lengthAdjust="spacingAndGlyphs">классного</text>
<text x="394.4" y="413.3" font-size="15.6" textLength="119.4" lengthAdjust="spacingAndGlyphs">руководителя с</text>
<text x="394.4" y="433.1" font-size="15.6" textLength="130.5" lengthAdjust="spacingAndGlyphs">педколлективом</text>
</g>

<!-- pins -->
<g>
  <ellipse cx="27" cy="47" rx="14" ry="15" fill="#202020" opacity="0.7" filter="url(#b4)"/>
  <path d="M23.2,40.2 C23.6,37.1 24.7,30.8 26.3,27.6 C27.9,24.5 29.9,23.1 32.6,21.3 C35.3,19.5 39.1,17.9 42.7,17.0 C46.3,16.1 50.5,15.0 54.0,15.7 C57.5,16.4 61.8,18.9 64.0,21.3 C66.2,23.7 67.3,27.1 67.5,30.0 C67.7,33.0 66.4,36.9 65.3,39.0 C64.2,41.1 61.8,40.8 60.9,42.5 C60.0,44.2 61.0,46.5 59.6,49.0 C58.2,51.5 55.5,55.9 52.7,57.8 C49.9,59.7 46.5,60.8 42.7,60.3 C38.9,59.8 33.1,57.3 30.0,55.0 C26.9,52.7 24.9,49.0 23.8,46.5 C22.7,44.0 22.8,43.4 23.2,40.2 Z" fill="url(#pinBlobL)" filter="url(#b05)"/>
  <ellipse cx="45" cy="39" rx="6.5" ry="13" fill="#a00604" opacity="0.5" transform="rotate(48 45 39)" filter="url(#b2p)"/>
  <circle cx="54.5" cy="29.5" r="11" fill="url(#pinHead)" filter="url(#b1p)"/>
  <circle cx="27.5" cy="49" r="1" fill="#ffd0c0" opacity="0.8"/>
</g>
<g>
  <ellipse cx="682" cy="54.5" rx="17" ry="16" fill="#262626" opacity="0.5" filter="url(#b4)"/>
  <path d="M679.9,46.6 C680.1,43.6 680.6,38.8 682.3,35.9 C684.0,33.0 687.5,31.2 690.2,29.4 C693.0,27.6 695.4,26.4 698.8,25.1 C702.1,23.8 706.9,21.5 710.3,21.5 C713.6,21.5 716.7,22.8 718.9,25.1 C721.1,27.4 723.0,32.0 723.5,35.1 C724.0,38.2 722.8,41.6 721.8,43.8 C720.8,46.0 718.5,46.4 717.5,48.3 C716.5,50.2 717.5,52.6 716.0,55.2 C714.5,57.8 711.7,62.0 708.8,63.8 C705.9,65.6 702.4,66.2 698.8,66.0 C695.2,65.8 690.3,64.4 687.3,62.4 C684.3,60.4 682.1,56.4 680.9,53.8 C679.7,51.2 679.7,49.6 679.9,46.6 Z" fill="url(#pinBlobR)" filter="url(#b05)"/>
  <ellipse cx="702" cy="44" rx="6.5" ry="13" fill="#a00604" opacity="0.5" transform="rotate(45 702 44)" filter="url(#b2p)"/>
  <circle cx="711" cy="34.5" r="11" fill="url(#pinHead)" filter="url(#b1p)"/>
  <circle cx="683.5" cy="53" r="1" fill="#ffd0c0" opacity="0.8"/>
</g>


</g>
</svg>
</body></html>
